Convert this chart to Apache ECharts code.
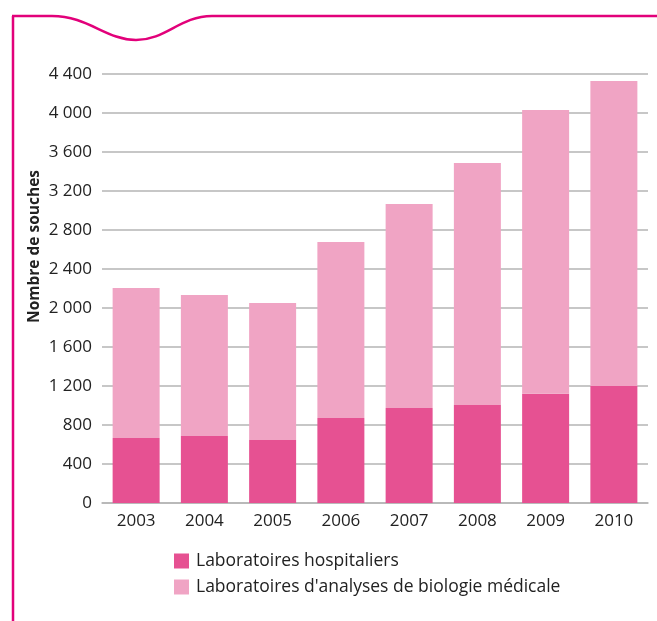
<!DOCTYPE html>
<html>
<head>
<meta charset="utf-8">
<script src="https://cdn.jsdelivr.net/npm/echarts@6/dist/echarts.min.js"></script>
<style>
  html, body { margin: 0; padding: 0; background: #fff; }
  #main { width: 657px; height: 621px; }
</style>
</head>
<body>
<div id="main"></div>
<script>
const years = ['2003', '2004', '2005', '2006', '2007', '2008', '2009', '2010']
const hospitaliers = [667, 687, 646, 872, 974, 1005, 1121, 1200]
const totals = [2205, 2133, 2051, 2677, 3067, 3487, 4031, 4328]
// analyses = total - hospitaliers
const analyses = totals.map((t, i) => t - hospitaliers[i])
const seriesNames = ['Laboratoires hospitaliers', "Laboratoires d'analyses de biologie médicale"]

const FONT = '"Open Sans", "Noto Sans", sans-serif'
const MAGENTA = '#e2007a'

const fmt = v => String(v).replace(/\B(?=(\d{3})+(?!\d))/g, ' ')

const chart = echarts.init(document.getElementById('main'), null, { renderer: 'canvas' })

const option = {
  animation: false,
  textStyle: { fontFamily: FONT },
  grid: { left: 102, right: 9, top: 74, bottom: 118, containLabel: false },
  legend: {
    orient: 'vertical',
    left: 174,
    top: 552,
    padding: 0,
    itemWidth: 15,
    itemHeight: 15,
    itemGap: 8,
    icon: 'rect',
    textStyle: { fontSize: 17.5, lineHeight: 15, color: '#222', fontFamily: FONT, padding: [0, 0, 0, 2] },
    data: seriesNames,
  },
  xAxis: {
    type: 'category',
    data: years,
    axisLine: { show: true, lineStyle: { color: '#b5b5b5', width: 1.5 } },
    axisTick: { show: false },
    axisLabel: { color: '#222', fontSize: 17, margin: 10, fontFamily: FONT },
  },
  yAxis: {
    type: 'value',
    min: 0,
    max: 4400,
    interval: 400,
    axisLine: { show: false },
    axisTick: { show: false },
    axisLabel: { color: '#222', fontSize: 17, margin: 10, formatter: fmt, fontFamily: FONT },
    splitLine: { lineStyle: { color: '#b5b5b5', width: 1.5 } },
  },
  series: [
    {
      name: seriesNames[0],
      type: 'bar',
      stack: 'total',
      barWidth: 47,
      itemStyle: { color: '#e65192' },
      data: hospitaliers,
    },
    {
      name: seriesNames[1],
      type: 'bar',
      stack: 'total',
      barWidth: 47,
      itemStyle: { color: '#f0a4c4' },
      data: analyses,
    },
  ],
  graphic: [
    {
      type: 'text',
      left: 27,
      top: 170,
      rotation: Math.PI / 2,
      style: {
        text: 'Nombre de souches',
        fontSize: 15.5,
        fontWeight: 'bold',
        fontFamily: FONT,
        fill: '#222',
      },
    },
    {
      type: 'line',
      shape: { x1: 13, y1: 621, x2: 13, y2: 16 },
      style: { stroke: MAGENTA, lineWidth: 2.5 },
    },
    {
      type: 'line',
      shape: { x1: 12, y1: 16, x2: 52, y2: 16 },
      style: { stroke: MAGENTA, lineWidth: 2.5 },
    },
    {
      type: 'bezierCurve',
      shape: { x1: 52, y1: 16, cpx1: 88, cpy1: 16, cpx2: 106, cpy2: 40, x2: 136, y2: 40 },
      style: { stroke: MAGENTA, lineWidth: 2.5, fill: null },
    },
    {
      type: 'bezierCurve',
      shape: { x1: 136, y1: 40, cpx1: 166, cpy1: 40, cpx2: 180, cpy2: 16, x2: 212, y2: 16 },
      style: { stroke: MAGENTA, lineWidth: 2.5, fill: null },
    },
    {
      type: 'line',
      shape: { x1: 212, y1: 16, x2: 657, y2: 16 },
      style: { stroke: MAGENTA, lineWidth: 2.5 },
    },
  ],
}

chart.setOption(option)
</script>
</body>
</html>
